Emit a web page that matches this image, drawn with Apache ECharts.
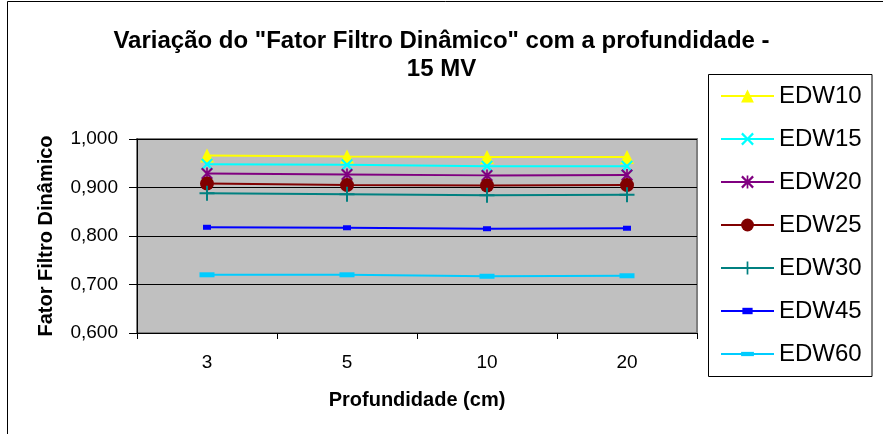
<!DOCTYPE html>
<html>
<head>
<meta charset="utf-8">
<script src="https://cdn.jsdelivr.net/npm/echarts@6/dist/echarts.min.js"></script>
<style>
  html, body { margin: 0; padding: 0; background: #ffffff; }
  #chart { width: 883px; height: 434px; }
</style>
</head>
<body>
<div id="chart"></div>
<script>
// Depth categories (cm)
const depths = ['3', '5', '10', '20'];

// Dynamic wedge factor for each EDW angle at 15 MV
const edw10 = [0.966, 0.964, 0.963, 0.963];
const edw15 = [0.948, 0.947, 0.944, 0.944];
const edw20 = [0.929, 0.927, 0.925, 0.926];
const edw25 = [0.908, 0.905, 0.904, 0.905];
const edw30 = [0.888, 0.886, 0.884, 0.885];
const edw45 = [0.818, 0.817, 0.815, 0.816];
const edw60 = [0.720, 0.720, 0.717, 0.718];

const seriesNames = ['EDW10', 'EDW15', 'EDW20', 'EDW25', 'EDW30', 'EDW45', 'EDW60'];
const seriesValues = [edw10, edw15, edw20, edw25, edw30, edw45, edw60];

// Y-axis tick range
const yMin = 0.6, yMax = 1.0, yStep = 0.1;

const FONT = '"Liberation Sans", Arial, sans-serif';

// Marker shapes in the classic spreadsheet style
const X_PATH = 'path://M0,1.5L1.5,0L6,4.5L10.5,0L12,1.5L7.5,6L12,10.5L10.5,12L6,7.5L1.5,12L0,10.5L4.5,6Z';
const STAR_PATH = 'path://M0,1.5L1.5,0L6,4.5L10.5,0L12,1.5L7.5,6L12,10.5L10.5,12L6,7.5L1.5,12L0,10.5L4.5,6Z M5.2,0L6.8,0L6.8,12L5.2,12Z';
const PLUS_PATH = 'path://M5.2,0L6.8,0L6.8,5.2L12,5.2L12,6.8L6.8,6.8L6.8,12L5.2,12L5.2,6.8L0,6.8L0,5.2L5.2,5.2Z';
// Bars drawn inside a square box so they keep their proportions in the legend too
const SMALL_BAR = 'path://M0,0M10,10M1,2.5L9,2.5L9,7.5L1,7.5Z';
const WIDE_BAR = 'path://M0,0M15,15M0,5L15,5L15,10L0,10Z';

const styles = [
  { color: '#FFFF00', symbol: 'triangle', size: 14 },
  { color: '#00FFFF', symbol: X_PATH, size: 12 },
  { color: '#800080', symbol: STAR_PATH, size: 12 },
  { color: '#800000', symbol: 'circle', size: 14 },
  { color: '#008080', symbol: PLUS_PATH, size: 15 },
  { color: '#0000FF', symbol: SMALL_BAR, size: 10 },
  { color: '#00CCFF', symbol: WIDE_BAR, size: 15 }
];

const series = seriesNames.map((name, i) => ({
  name: name,
  type: 'line',
  data: seriesValues[i],
  symbol: styles[i].symbol,
  symbolSize: styles[i].size,
  symbolKeepAspect: true,
  showAllSymbol: true,
  animation: false,
  lineStyle: { color: styles[i].color, width: 2 },
  itemStyle: { color: styles[i].color, opacity: 1 },
  emphasis: { disabled: true }
}));

const chart = echarts.init(document.getElementById('chart'), null, { renderer: 'canvas' });

chart.setOption({
  backgroundColor: '#ffffff',
  animation: false,
  title: {
    text: 'Variação do "Fator Filtro Dinâmico" com a profundidade -\n15 MV',
    left: 'center',
    top: 22,
    textStyle: {
      fontFamily: FONT,
      fontSize: 24,
      fontWeight: 'bold',
      lineHeight: 28,
      color: '#000000'
    }
  },
  graphic: [
    {
      type: 'rect',
      shape: { x: 7.5, y: 1.5, width: 900, height: 500 },
      style: { fill: null, stroke: '#000000', lineWidth: 1 },
      silent: true
    },
    {
      type: 'rect',
      shape: { x: 708.5, y: 74.5, width: 163.5, height: 302 },
      style: { fill: '#ffffff', stroke: '#000000', lineWidth: 1 },
      silent: true,
      z: -1
    }
  ],
  legend: {
    orient: 'vertical',
    left: 720,
    top: 82,
    padding: 0,
    itemWidth: 53,
    itemHeight: 16,
    itemGap: 15,
    selectedMode: false,
    data: seriesNames,
    textStyle: {
      fontFamily: FONT,
      fontSize: 24,
      lineHeight: 28,
      color: '#000000'
    }
  },
  grid: {
    left: 137,
    right: 186,
    top: 139,
    bottom: 101,
    show: true,
    backgroundColor: '#C0C0C0',
    borderColor: '#808080',
    borderWidth: 2
  },
  xAxis: {
    type: 'category',
    data: depths,
    boundaryGap: true,
    name: 'Profundidade (cm)',
    nameLocation: 'middle',
    nameGap: 57,
    nameTextStyle: {
      fontFamily: FONT,
      fontSize: 20,
      fontWeight: 'bold',
      color: '#000000'
    },
    axisLine: { show: true, lineStyle: { color: '#000000', width: 1 } },
    axisTick: { show: true, length: 6, interval: 0, lineStyle: { color: '#000000' } },
    axisLabel: {
      margin: 20,
      fontFamily: FONT,
      fontSize: 19,
      color: '#000000'
    },
    splitLine: { show: false }
  },
  yAxis: {
    type: 'value',
    min: yMin,
    max: yMax,
    interval: yStep,
    name: 'Fator Filtro Dinâmico',
    nameLocation: 'middle',
    nameGap: 81,
    nameRotate: 90,
    nameTextStyle: {
      fontFamily: FONT,
      fontSize: 20,
      fontWeight: 'bold',
      color: '#000000'
    },
    axisLine: { show: true, lineStyle: { color: '#000000', width: 1 } },
    axisTick: { show: true, length: 8, lineStyle: { color: '#000000' } },
    axisLabel: {
      margin: 19,
      fontFamily: FONT,
      fontSize: 19,
      color: '#000000',
      formatter: v => v.toFixed(3).replace('.', ',')
    },
    splitLine: { show: true, lineStyle: { color: '#000000', width: 1 } }
  },
  series: series
});
</script>
</body>
</html>
